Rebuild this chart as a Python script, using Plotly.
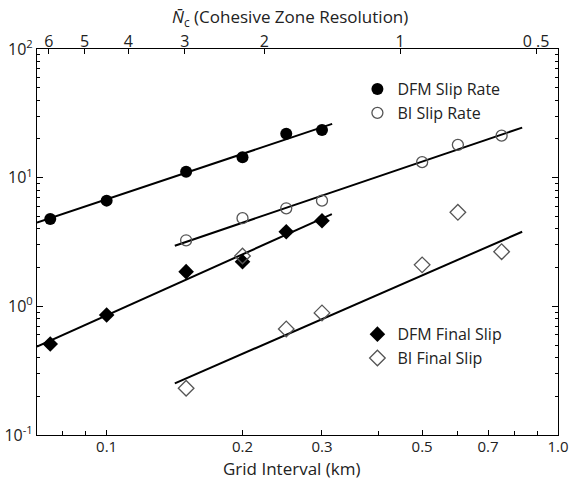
import numpy as np
import plotly.graph_objects as go

# ---- data ----
grid_dfm = [0.075, 0.1, 0.15, 0.2, 0.25, 0.3]
dfm_slip_rate = [4.77, 6.63, 11.1, 14.4, 21.9, 23.5]
dfm_final_slip = [0.51, 0.857, 1.86, 2.22, 3.80, 4.63]

grid_bi = [0.15, 0.2, 0.25, 0.3, 0.5, 0.6, 0.75]
bi_slip_rate = [3.26, 4.84, 5.78, 6.63, 13.2, 18.0, 21.2]
bi_final_slip = [0.231, 2.46, 0.667, 0.889, 2.10, 5.38, 2.66]

# fitted power-law lines (end points)
fit_dfm_rate_x = [0.0701, 0.316]
fit_dfm_rate_y = [4.47, 26.2]
fit_bi_rate_x = [0.1416, 0.833]
fit_bi_rate_y = [2.96, 24.5]
fit_dfm_final_x = [0.0701, 0.3155]
fit_dfm_final_y = [0.486, 5.20]
fit_bi_final_x = [0.1416, 0.833]
fit_bi_final_y = [0.252, 3.80]

x_ticks = [0.1, 0.2, 0.3, 0.5, 0.7, 1.0]
x_ticklabels = ["0.1", "0.2", "0.3", "0.5", "0.7", "1.0"]
x_minor = [0.08, 0.09, 0.4, 0.6, 0.8, 0.9]
y_ticks = [0.1, 1, 10, 100]
y_ticklabels = ["10<sup>-1</sup>", "10<sup>0</sup>", "10<sup>1</sup>", "10<sup>2</sup>"]
y_minor = [m * d for d in (0.1, 1, 10) for m in range(2, 10)]

nc_ticks = [6, 5, 4, 3, 2, 1, 0.5]
nc_ticklabels = ["6", "5", "4", "3", "2", "1", "0 .5"]
nc_scale = 0.447  # grid interval (km) = nc_scale / N_c

FONT = "Open Sans"
GREY = "#555555"
TXT = "#222222"

fig = go.Figure()

for fx, fy in [(fit_dfm_rate_x, fit_dfm_rate_y), (fit_bi_rate_x, fit_bi_rate_y),
               (fit_dfm_final_x, fit_dfm_final_y), (fit_bi_final_x, fit_bi_final_y)]:
    fig.add_trace(go.Scatter(x=fx, y=fy, mode="lines", line=dict(color="black", width=2),
                             showlegend=False, hoverinfo="skip"))

fig.add_trace(go.Scatter(x=grid_dfm, y=dfm_slip_rate, mode="markers", name="DFM Slip Rate",
                         marker=dict(symbol="circle", size=12, color="black"),
                         legend="legend", legendgroup="a"))
fig.add_trace(go.Scatter(x=grid_bi, y=bi_slip_rate, mode="markers", name="BI Slip Rate",
                         marker=dict(symbol="circle-open", size=11, color=GREY, line=dict(width=1.3)),
                         legend="legend", legendgroup="b"))
fig.add_trace(go.Scatter(x=grid_dfm, y=dfm_final_slip, mode="markers", name="DFM Final Slip",
                         marker=dict(symbol="diamond", size=12, color="black"),
                         legend="legend2", legendgroup="c"))
fig.add_trace(go.Scatter(x=grid_bi, y=bi_final_slip, mode="markers", name="BI Final Slip",
                         marker=dict(symbol="diamond-open", size=12, color=GREY, line=dict(width=1.3)),
                         legend="legend2", legendgroup="d"))

axis_common = dict(showline=True, linecolor="black", linewidth=1.2, showgrid=False, zeroline=False,
                   automargin=False, ticks="inside", tickcolor="black")
tick_font = dict(family=FONT, size=16, color=TXT)

fig.update_layout(
    width=570, height=480,
    margin=dict(l=37, r=12, t=49, b=45),
    plot_bgcolor="white", paper_bgcolor="white",
    font=dict(family=FONT, color=TXT),
    xaxis=dict(type="log", range=[np.log10(0.0701), 0], tickvals=x_ticks, ticktext=x_ticklabels,
               ticklen=5, mirror=True, ticklabelstandoff=-2,
               tickfont=dict(family=FONT, size=15, color=TXT),
               minor=dict(tickvals=x_minor, ticks="inside", ticklen=4, tickcolor="black"),
               **axis_common),
    xaxis2=dict(type="log", overlaying="x", matches="x", side="top", anchor="y",
                tickvals=[nc_scale / n for n in nc_ticks], ticktext=nc_ticklabels, ticklen=5,
                ticklabelstandoff=-5, tickfont=tick_font, **axis_common),
    yaxis=dict(type="log", range=[-1, 2], tickvals=y_ticks, ticktext=y_ticklabels, ticklen=6,
               mirror="ticks", tickfont=tick_font,
               minor=dict(tickvals=y_minor, ticks="inside", ticklen=3, tickcolor="black"),
               **axis_common),
    legend=dict(x=0.615, y=0.94, xanchor="left", yanchor="top", bgcolor="rgba(0,0,0,0)",
                font=dict(family=FONT, size=16, color=TXT), tracegroupgap=0, itemsizing="trace"),
    legend2=dict(x=0.615, y=0.305, xanchor="left", yanchor="top", bgcolor="rgba(0,0,0,0)",
                 font=dict(family=FONT, size=16, color=TXT), tracegroupgap=0, itemsizing="trace"),
    annotations=[
        dict(text="<i>N\u0304</i><sub>c</sub> (Cohesive Zone Resolution)", xref="paper", yref="paper",
             x=0.485, y=1.0, yshift=17, xanchor="center", yanchor="bottom", showarrow=False,
             font=dict(family=FONT, size=17, color=TXT)),
        dict(text="Grid Interval (km)", xref="paper", yref="paper",
             x=0.49, y=0.0, yshift=-33, xanchor="center", yanchor="middle", showarrow=False,
             font=dict(family=FONT, size=17, color=TXT)),
    ],
)

# invisible trace so the top axis is drawn
fig.add_trace(go.Scatter(x=[nc_scale / n for n in nc_ticks], y=[1] * len(nc_ticks), xaxis="x2",
                         mode="markers", marker=dict(opacity=0), showlegend=False, hoverinfo="skip"))

fig.write_html("out.html")
